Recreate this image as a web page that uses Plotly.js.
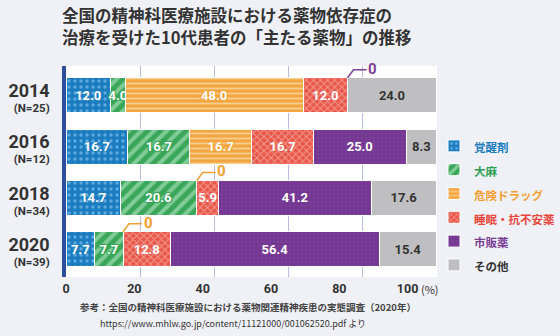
<!DOCTYPE html>
<html><head><meta charset="utf-8">
<script src="https://cdn.plot.ly/plotly-3.0.1.min.js"></script>
<style>html,body{margin:0;padding:0;background:#f0f1f7;}#chart{width:560px;height:336px;}</style>
</head><body><div id="chart"></div>
<script>
const years = ["2014", "2016", "2018", "2020"];
const nCounts = ["N=25", "N=12", "N=34", "N=39"];
const seriesNames = ["覚醒剤", "大麻", "危険ドラッグ", "睡眠・抗不安薬", "市販薬", "その他"];
const stimulants = [12.0, 16.7, 14.7, 7.7];
const cannabis = [4.0, 16.7, 20.6, 7.7];
const dangerDrugs = [48.0, 16.7, 0, 0];
const sedatives = [12.0, 16.7, 5.9, 12.8];
const otc = [0, 25.0, 41.2, 56.4];
const others = [24.0, 8.3, 17.6, 15.4];
const xTicks = [0, 20, 40, 60, 80, 100];

const seriesValues = [stimulants, cannabis, dangerDrugs, sedatives, otc, others];
const styles = [
  {bg:"#1b7dc0", fg:"#5ea9dd", shape:".", size:6, sol:0.25, txt:"#1b7dc0", lab:"#ffffff"},
  {bg:"#3aa65a", fg:"#80cc96", shape:"/", size:9, sol:0.45, txt:"#2d9f55", lab:"#ffffff"},
  {bg:"#f3a640", fg:"#f9cf90", shape:"-", size:5, sol:0.35, txt:"#f0a030", lab:"#ffffff"},
  {bg:"#e9574b", fg:"#f39a8f", shape:"x", size:5, sol:0.35, txt:"#e8473d", lab:"#ffffff"},
  {bg:"#7c3f98", fg:"#65288a", shape:"+", size:4, sol:0.25, txt:"#7a3e95", lab:"#ffffff"},
  {bg:"#bfbfc1", fg:null, shape:"", size:6, sol:0.3, txt:"#333333", lab:"#333333"}
];
const yIdx = years.map((_, i) => i);
const numFont = "Roboto, sans-serif";
const jpFont = "Noto Sans CJK JP, sans-serif";
const barWidth = 0.68;

const traces = seriesValues.map((vals, k) => {
  const s = styles[k];
  const pattern = s.shape ? {shape:s.shape, bgcolor:s.bg, fgcolor:s.fg, size:s.size, solidity:s.sol, fillmode:"replace"} : {shape:""};
  const shadow = (k === 1 || k === 2) ? `1px 1px 1px ${s.bg}, -1px -1px 1px ${s.bg}, 1px -1px 1px ${s.bg}, -1px 1px 1px ${s.bg}` : "none";
  return {
    type:"bar", orientation:"h", x: vals, y: yIdx,
    name: `<span style="font-size:11.5px;color:${s.txt}"><b>${seriesNames[k]}</b></span>`,
    width: barWidth,
    marker:{color:s.bg, pattern:pattern, line:{color:"#ffffff", width:1}},
    text: vals.map(v => v > 0 ? v.toFixed(1) : ""),
    textposition:"inside", insidetextanchor:"middle", textangle:0,
    insidetextfont:{family:numFont, size:13, color:s.lab, weight:"bold", shadow:shadow},
    hoverinfo:"skip", cliponaxis:false
  };
});
traces.push({type:"scatter", x:[], y:[], xaxis:"x2", yaxis:"y", showlegend:false, hoverinfo:"skip"});

function cum(yearIndex, seriesIndex){
  let c = 0; for (let k = 0; k < seriesIndex; k++) c += seriesValues[k][yearIndex]; return c;
}
const zeroNotes = [];
const zeroLeaders = [];
seriesValues.forEach((vals, k) => vals.forEach((v, i) => {
  if (v === 0) {
    const col = k === 4 ? "#7c3f98" : "#f0a030";
    const px = cum(i, k), py = i - barWidth / 2;
    zeroLeaders.push({type:"path", xref:"x", yref:"y", xsizemode:"pixel", ysizemode:"pixel",
      xanchor:px, yanchor:py, path:"M0,0 L6,8 L19,8", line:{color:col, width:1.5}, layer:"above"});
    zeroNotes.push({x:px, y:py, xref:"x", yref:"y", text:"<b>0</b>", showarrow:false,
      xanchor:"center", yanchor:"middle", xshift:25, yshift:9,
      font:{family:numFont, size:15, color:col}});
  }
}));

const layout = {
  width:560, height:336,
  paper_bgcolor:"#f0f1f7", plot_bgcolor:"#ffffff",
  margin:{l:66, r:123, t:66, b:59, autoexpand:false},
  barmode:"stack", bargap:0.3,
  uniformtext:{mode:"show", minsize:13},
  title:{text:"全国の精神科医療施設における薬物依存症の<br>治療を受けた10代患者の「主たる薬物」の推移",
    x:62/560, xanchor:"left", xref:"container", y:0.934, yanchor:"top", yref:"container",
    font:{family:jpFont, size:16.5, color:"#333333", weight:"bold"}},
  xaxis:{range:[0,100.15], showgrid:true, gridcolor:"#b9bde3", gridwidth:1, tickvals:xTicks,
    showticklabels:false, zeroline:false, fixedrange:true},
  xaxis2:{overlaying:"x", anchor:"y", side:"bottom", range:[0,108.6], tickvals:xTicks,
    showgrid:false, zeroline:false, ticks:"", ticklabelstandoff:2,
    tickfont:{family:numFont, size:12.5, color:"#333333", weight:"bold"}},
  yaxis:{range:[3.54,-0.57], tickvals:yIdx.map(i => i + 0.1),
    ticktext: years.map((y, i) => `<span style="font-size:18px">${y}</span><br>(${nCounts[i]})`),
    tickfont:{family:numFont, size:11.5, color:"#333333", weight:"bold"},
    showline:true, linecolor:"#2e4f9e", linewidth:4, showgrid:false, zeroline:false,
    ticks:"", ticklabelstandoff:10},
  legend:{x:(434-66)/371, xanchor:"left", y:(277-129)/211, yanchor:"top", traceorder:"normal",
    bgcolor:"rgba(0,0,0,0)", font:{family:jpFont, size:16, color:"#333"}, itemclick:false},
  shapes: zeroLeaders,
  annotations: zeroNotes.concat([
    {xref:"paper", yref:"paper", x:(430-66)/371, y:(277-289)/211, xanchor:"center", yanchor:"middle",
      text:"(%)", showarrow:false, font:{family:jpFont, size:11, color:"#333"}},
    {xref:"paper", yref:"paper", x:(247.5-66)/371, y:(277-307)/211, xanchor:"center", yanchor:"middle",
      text:"<b>参考：全国の精神科医療施設における薬物関連精神疾患の実態調査（2020年）</b>", showarrow:false,
      font:{family:jpFont, size:9.5, color:"#444"}},
    {xref:"paper", yref:"paper", x:(232.5-66)/371, y:(277-323)/211, xanchor:"center", yanchor:"middle",
      text:"https://www.mhlw.go.jp/content/11121000/001062520.pdf より", showarrow:false,
      font:{family:jpFont, size:9, color:"#333"}}
  ]),
  showlegend:true
};
Plotly.newPlot("chart", traces, layout, {displayModeBar:false, staticPlot:true});
</script></body></html>
